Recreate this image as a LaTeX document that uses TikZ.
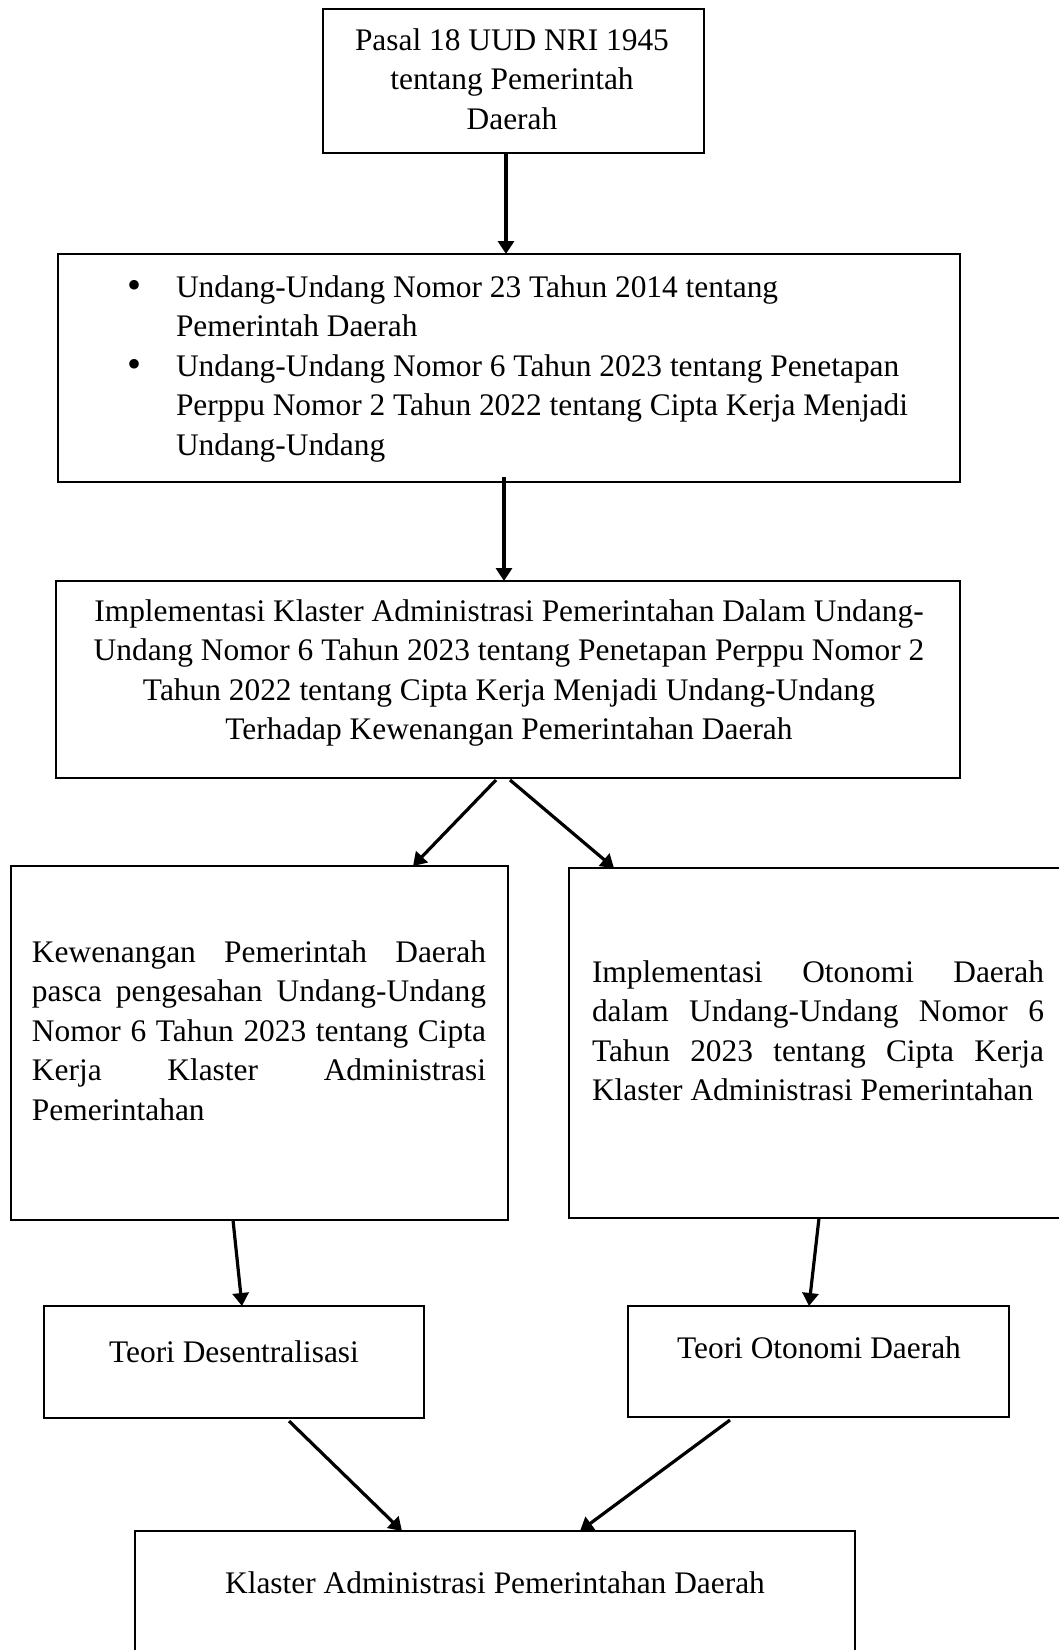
\documentclass[tikz,border=0pt]{standalone}
\usepackage{fontspec}
\setmainfont{Liberation Serif}
\usetikzlibrary{arrows.meta,calc}
\newcommand{\bigbul}{\leavevmode\llap{\raisebox{-0.5pt}{\fontsize{20pt}{20pt}\selectfont\textbullet}\hspace{17pt}}}
\begin{document}
\begin{tikzpicture}[x=0.5pt,y=-0.5pt,
  box/.style={draw, line width=1.1pt, rectangle, inner sep=0pt, outer sep=0pt, anchor=north west},
  txt/.style={inner sep=0pt, outer sep=0pt, font=\fontsize{15.7pt}{19.75pt}\selectfont},
  arr/.style={line width=1.6pt, -{Triangle[length=6.5pt,width=8pt]}}]
\useasboundingbox (0,0) rectangle (1059,1650);
\fill[white] (0,0) rectangle (1059,1650);
\clip (0,0) rectangle (1059,1650);
% boxes
\node[box, minimum width=190.5pt, minimum height=72pt] (b1) at (323,9) {};
\node[box, minimum width=451pt, minimum height=114pt] (b2) at (58,254) {};
\node[box, minimum width=452pt, minimum height=98.5pt] (b3) at (56,581) {};
\node[box, minimum width=248.5pt, minimum height=177pt] (b4) at (11,866) {};
\node[box, minimum width=250pt, minimum height=175pt] (b5) at (569,868) {};
\node[box, minimum width=190pt, minimum height=56pt] (b6) at (44,1306) {};
\node[box, minimum width=190.5pt, minimum height=55.5pt] (b7) at (628,1306) {};
\node[box, minimum width=360pt, minimum height=70pt] (b8) at (135,1531) {};
% texts
\node[txt, anchor=base] (t1) at (512,50) {\parbox[t]{185pt}{\centering Pasal 18 UUD NRI 1945\\ tentang Pemerintah\\ Daerah}};
\node[txt, anchor=base west] (t2) at (176,297) {\parbox[t]{390pt}{\raggedright
  \bigbul Undang-Undang Nomor 23 Tahun 2014 tentang\\
  Pemerintah Daerah\\
  \bigbul Undang-Undang Nomor 6 Tahun 2023 tentang Penetapan\\
  Perppu Nomor 2 Tahun 2022 tentang Cipta Kerja Menjadi\\
  Undang-Undang}};
\node[txt, anchor=base] (t3) at (509,621) {\parbox[t]{440pt}{\centering
  Implementasi Klaster Administrasi Pemerintahan Dalam Undang-\\
  Undang Nomor 6 Tahun 2023 tentang Penetapan Perppu Nomor 2\\
  Tahun 2022 tentang Cipta Kerja Menjadi Undang-Undang\\
  Terhadap Kewenangan Pemerintahan Daerah}};
\node[txt, anchor=base west] (t4) at (32,962) {\parbox[t]{227pt}{\raggedright
  \makebox[\linewidth][s]{Kewenangan Pemerintah Daerah}\\
  \makebox[\linewidth][s]{pasca pengesahan Undang-Undang}\\
  \makebox[\linewidth][s]{Nomor 6 Tahun 2023 tentang Cipta}\\
  \makebox[\linewidth][s]{Kerja Klaster Administrasi}\\
  Pemerintahan}};
\node[txt, anchor=base west] (t5) at (592,982) {\parbox[t]{226pt}{\raggedright
  \makebox[\linewidth][s]{Implementasi Otonomi Daerah}\\
  \makebox[\linewidth][s]{dalam Undang-Undang Nomor 6}\\
  \makebox[\linewidth][s]{Tahun 2023 tentang Cipta Kerja}\\
  Klaster Administrasi Pemerintahan}};
\node[txt, anchor=base] (t6) at (234,1362) {Teori Desentralisasi};
\node[txt, anchor=base] (t7) at (819,1358) {Teori Otonomi Daerah};
\node[txt, anchor=base] (t8) at (495,1593) {Klaster Administrasi Pemerintahan Daerah};
% connectors
\draw[arr] ($(b1.south)+(-7.5,0)$) -- ($(b2.north)+(-3,0)$);
\draw[arr] ($(b2.south)+(-5,-5)$) -- ($(b3.north)+(-4,0)$);
\draw[arr] ($(b3.south)+(-12,2)$) -- ($(b4.north west)+(402,0)$);
\draw[arr] ($(b3.south)+(2,2)$) -- ($(b5.north west)+(45,0)$);
\draw[arr] ($(b4.south)+(-26.5,0)$) -- ($(b6.north)+(8,0)$);
\draw[arr] (b5.south) -- ($(b7.north)+(-9.5,0)$);
\draw[arr] ($(b6.south)+(55,3)$) -- ($(b8.north west)+(267,0)$);
\draw[arr] ($(b7.south)+(-88.5,3)$) -- ($(b8.north west)+(445,0)$);
\end{tikzpicture}
\end{document}
